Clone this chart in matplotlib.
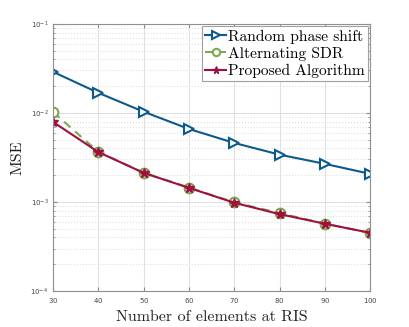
import matplotlib
matplotlib.use("Agg")
import matplotlib.pyplot as plt
from matplotlib.ticker import LogLocator, NullFormatter

# data
elements = [30, 40, 50, 60, 70, 80, 90, 100]
mse_random = [0.0289, 0.0168, 0.0103, 0.0066, 0.0046, 0.0034, 0.00268, 0.00207]
mse_sdr = [0.0102, 0.00365, 0.00213, 0.00145, 0.00099, 0.00075, 0.00057, 0.00045]
mse_proposed = [0.0079, 0.00363, 0.00212, 0.00144, 0.00098, 0.00073, 0.00057, 0.00045]

blue = "#0b5a8c"
green = "#7fa650"
red = "#a0103f"

plt.rcParams["mathtext.fontset"] = "cm"
plt.rcParams["axes.formatter.use_mathtext"] = True

fig = plt.figure(figsize=(4.09, 3.27), dpi=100)
ax = fig.add_axes([0.130, 0.110, 0.775, 0.817])

ax.plot(elements, mse_random, color=blue, linewidth=1.5, marker=">", markersize=7,
        markerfacecolor="white", markeredgewidth=1.5, label="Random phase shift")
ax.plot(elements, mse_sdr, color=green, linewidth=1.5, linestyle=(0, (4, 3)), marker="o",
        markersize=7, markerfacecolor="white", markeredgewidth=1.5, label="Alternating SDR")
ax.plot(elements, mse_proposed, color=red, linewidth=1.5, marker="*", markersize=7,
        label="Proposed Algorithm")

ax.set_yscale("log")
ax.set_xlim(30, 100)
ax.set_ylim(1e-4, 1e-1)
ax.set_xticks(elements)
ax.yaxis.set_major_locator(LogLocator(base=10, numticks=10))
ax.yaxis.set_minor_locator(LogLocator(base=10, subs=range(2, 10), numticks=10))
ax.yaxis.set_minor_formatter(NullFormatter())

ax.grid(True, which="major", color="#e0e0e0", linewidth=0.8)
ax.grid(True, which="minor", axis="y", color="#e0e0e0", linestyle=":", linewidth=0.8)
ax.set_axisbelow(True)

ax.tick_params(which="both", direction="in", labelsize=5, labelcolor="#444444",
               color="#888888", top=True, right=True)
ax.tick_params(which="major", length=3)
ax.tick_params(which="minor", length=1.5)
for s in ax.spines.values():
    s.set_color("#909090")

ax.set_xlabel("Number of elements at RIS", family="cmr10", fontsize=11.5, color="#222222")
ax.set_ylabel("MSE", family="cmr10", fontsize=11.5, color="#222222")

leg = ax.legend(loc="upper right", prop={"family": "cmr10", "size": 11.2}, fancybox=False,
                edgecolor="#a0a0a0", framealpha=1, borderpad=0.2, labelspacing=0.2,
                handlelength=1.3, handletextpad=0.15, borderaxespad=0.15, markerscale=0.75)
leg.get_frame().set_linewidth(0.8)

fig.savefig("out.png", dpi=100)
